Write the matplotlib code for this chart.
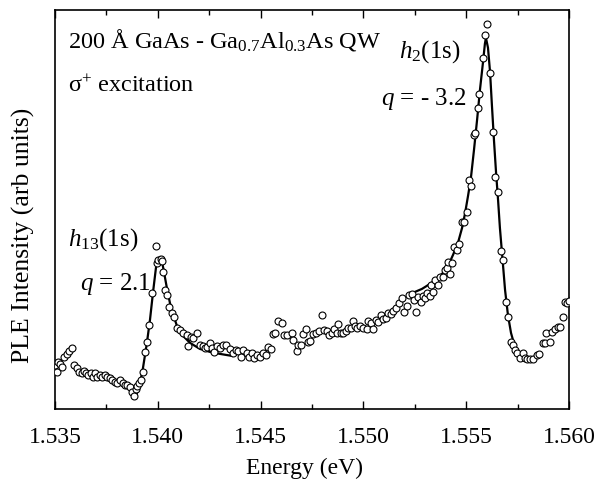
import matplotlib
matplotlib.use("Agg")
import matplotlib.pyplot as plt
from matplotlib.ticker import MultipleLocator

plt.rcParams['font.family'] = ['Liberation Serif', 'DejaVu Serif']
plt.rcParams['mathtext.fontset'] = 'custom'
plt.rcParams['mathtext.rm'] = 'Liberation Serif'
plt.rcParams['mathtext.it'] = 'Liberation Serif:italic'

# measured PLE points (eV, arb. units)
energy = [1.53500, 1.53510, 1.53515, 1.53524, 1.53534, 1.53544, 1.53558, 1.53568, 1.53583, 1.53592,
          1.53607, 1.53617, 1.53631, 1.53641, 1.53651, 1.53661, 1.53675, 1.53685, 1.53695, 1.53704,
          1.53719, 1.53729, 1.53743, 1.53753, 1.53768, 1.53777, 1.53792, 1.53802, 1.53816, 1.53831,
          1.53840, 1.53850, 1.53865, 1.53875, 1.53884, 1.53894, 1.53899, 1.53909, 1.53918, 1.53928,
          1.53938, 1.53947, 1.53957, 1.53972, 1.53991, 1.53996, 1.54001, 1.54016, 1.54020, 1.54025,
          1.54035, 1.54045, 1.54054, 1.54069, 1.54079, 1.54093, 1.54108, 1.54123, 1.54142, 1.54147,
          1.54162, 1.54171, 1.54191, 1.54205, 1.54220, 1.54230, 1.54239, 1.54254, 1.54264, 1.54273,
          1.54288, 1.54303, 1.54317, 1.54332, 1.54351, 1.54366, 1.54380, 1.54390, 1.54405, 1.54414,
          1.54434, 1.54444, 1.54458, 1.54468, 1.54482, 1.54497, 1.54512, 1.54526, 1.54536, 1.54551,
          1.54560, 1.54570, 1.54585, 1.54604, 1.54614, 1.54628, 1.54653, 1.54658, 1.54677, 1.54682,
          1.54697, 1.54706, 1.54721, 1.54731, 1.54740, 1.54755, 1.54770, 1.54784, 1.54799, 1.54808,
          1.54823, 1.54833, 1.54847, 1.54857, 1.54872, 1.54877, 1.54891, 1.54901, 1.54916, 1.54925,
          1.54940, 1.54949, 1.54959, 1.54969, 1.54984, 1.54998, 1.55018, 1.55022, 1.55037, 1.55047,
          1.55061, 1.55071, 1.55086, 1.55095, 1.55110, 1.55120, 1.55134, 1.55144, 1.55159, 1.55173,
          1.55188, 1.55198, 1.55212, 1.55222, 1.55237, 1.55246, 1.55256, 1.55266, 1.55280, 1.55290,
          1.55300, 1.55309, 1.55324, 1.55329, 1.55339, 1.55348, 1.55363, 1.55373, 1.55387, 1.55397,
          1.55407, 1.55412, 1.55421, 1.55431, 1.55441, 1.55455, 1.55465, 1.55480, 1.55489, 1.55504,
          1.55514, 1.55523, 1.55538, 1.55543, 1.55557, 1.55562, 1.55582, 1.55591, 1.55601, 1.55616,
          1.55630, 1.55640, 1.55655, 1.55669, 1.55679, 1.55694, 1.55703, 1.55718, 1.55728, 1.55737,
          1.55747, 1.55762, 1.55776, 1.55786, 1.55796, 1.55810, 1.55825, 1.55844, 1.55854, 1.55874,
          1.55883, 1.55888, 1.55908, 1.55917, 1.55932, 1.55947, 1.55956, 1.55971, 1.55981, 1.55990,
          1.56000]
intensity = [53, 46, 56, 54, 51, 61, 64, 67, 70, 53,
             50, 46, 45, 47, 45, 43, 45, 41, 45, 41,
             43, 41, 43, 41, 40, 38, 36, 35, 38, 35,
             33, 33, 31, 26, 22, 29, 32, 35, 38, 46,
             66, 76, 93, 125, 172, 155, 158, 159, 157, 146,
             128, 123, 111, 105, 101, 90, 88, 85, 83, 72,
             81, 80, 85, 73, 72, 70, 71, 75, 70, 66,
             72, 70, 73, 73, 69, 65, 68, 67, 61, 68,
             65, 61, 65, 60, 63, 61, 65, 63, 71, 69,
             84, 85, 97, 95, 83, 83, 85, 78, 67, 73,
             73, 84, 89, 76, 77, 84, 85, 87, 103, 88,
             87, 83, 85, 89, 85, 94, 85, 85, 87, 90,
             90, 97, 92, 90, 92, 90, 89, 97, 95, 89,
             98, 96, 103, 99, 100, 105, 104, 107, 110, 115,
             120, 106, 112, 123, 124, 118, 106, 121, 116, 122,
             120, 125, 122, 133, 126, 138, 133, 141, 141, 148,
             150, 156, 144, 155, 171, 168, 174, 196, 196, 206,
             238, 232, 283, 285, 310, 324, 360, 383, 394, 345,
             286, 241, 226, 167, 158, 116, 101, 76, 73, 68,
             65, 60, 65, 60, 59, 59, 59, 63, 64, 75,
             75, 85, 76, 86, 89, 91, 91, 101, 116, 115,
             117]

# Fano fits
fit1_energy = [1.53806, 1.53836, 1.53860, 1.53879, 1.53889, 1.53899, 1.53913, 1.53928, 1.53947,
               1.53962, 1.53977, 1.53991, 1.54001, 1.54011, 1.54020, 1.54030, 1.54045, 1.54059,
               1.54074, 1.54093, 1.54123, 1.54157, 1.54205, 1.54254, 1.54303, 1.54361]
fit1_intensity = [37, 34, 30, 24, 22, 25, 34, 50, 75,
                  98, 126, 150, 159, 161, 157, 146, 129, 115,
                  104, 92, 82, 75, 69, 66, 64, 62]

fit2_energy = [1.55217, 1.55251, 1.55285, 1.55324, 1.55358, 1.55387, 1.55412, 1.55436, 1.55460,
               1.55480, 1.55494, 1.55509, 1.55523, 1.55538, 1.55553, 1.55567, 1.55582, 1.55591,
               1.55596, 1.55606, 1.55616, 1.55625, 1.55635, 1.55645, 1.55655, 1.55664, 1.55679,
               1.55689, 1.55703, 1.55718, 1.55737, 1.55762, 1.55791, 1.55815, 1.55844]
fit2_intensity = [122, 126, 129, 134, 139, 145, 152, 163, 175,
                  190, 204, 222, 240, 268, 298, 328, 356, 374,
                  380, 370, 346, 313, 278, 246, 218, 190, 153,
                  128, 103, 85, 71, 63, 59, 59, 63]

fig = plt.figure(figsize=(6.09, 4.88), dpi=100)
ax = fig.add_axes([0.0903, 0.162, 0.844, 0.818])

ax.plot(energy, intensity, 'o', mfc='white', mec='black', ms=5, mew=0.8, zorder=3)
ax.plot(fit1_energy, fit1_intensity, '-', color='black', lw=1.6, zorder=2)
ax.plot(fit2_energy, fit2_intensity, '-', color='black', lw=1.6, zorder=2)

ax.set_xlim(1.535, 1.560)
ax.set_ylim(9, 408)
ax.xaxis.set_minor_locator(MultipleLocator(0.0025))
ax.set_xticks([1.535, 1.540, 1.545, 1.550, 1.555, 1.560])
ax.set_xticklabels(['1.535', '1.540', '1.545', '1.550', '1.555', '1.560'])
ax.set_yticks([])
ax.tick_params(axis='x', which='both', direction='in', top=True, labelsize=17, pad=13)
ax.tick_params(axis='x', which='major', length=6, width=1)
ax.tick_params(axis='x', which='minor', length=3.5, width=1)
for s in ax.spines.values():
    s.set_linewidth(1.2)

ax.set_xlabel('Energy (eV)', fontsize=17)
ax.set_ylabel('PLE Intensity (arb units)', fontsize=18.5)
ax.xaxis.set_label_coords(0.486, -0.123)
ax.yaxis.set_label_coords(-0.039, 0.436)

ax.text(0.025, 0.905, r'200 Å GaAs - Ga$_{0.7}$Al$_{0.3}$As QW', transform=ax.transAxes,
        fontsize=17.5, va='baseline', ha='left')
ax.text(0.025, 0.794, r'σ$^{+}$ excitation', transform=ax.transAxes,
        fontsize=17.5, va='baseline', ha='left')
ax.text(0.025, 0.409, r'$h_{13}$(1s)', transform=ax.transAxes,
        fontsize=18, va='baseline', ha='left')
ax.text(0.049, 0.298, r'$q$ = 2.1', transform=ax.transAxes,
        fontsize=18, va='baseline', ha='left')
ax.text(0.790, 0.880, r'$h_{2}$(1s)', transform=ax.transAxes,
        fontsize=18, va='baseline', ha='right')
ax.text(0.800, 0.762, r'$q$ = - 3.2', transform=ax.transAxes,
        fontsize=18, va='baseline', ha='right')

fig.savefig('out.png', dpi=100)
